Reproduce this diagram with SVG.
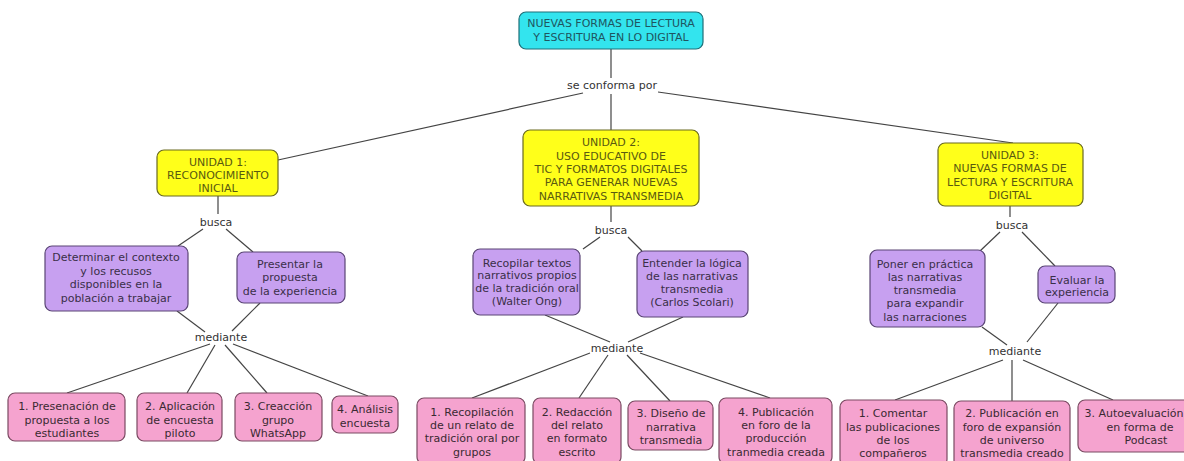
<svg xmlns="http://www.w3.org/2000/svg" width="1184" height="461" viewBox="0 0 1184 461">
<style>
text{font-family:"DejaVu Sans",Verdana,sans-serif;font-size:11px;fill:#3a3a3a;text-anchor:middle}
.lbl{font-size:11px;fill:#333}
.root rect{fill:#33E4EE;stroke:#1f6f78;stroke-width:1.2}
.root text{fill:#1f5560}
.unit rect{fill:#FFFF1A;stroke:#6a6a20;stroke-width:1.2}
.unit text{fill:#5a5a10}
.pur rect{fill:#C7A0F0;stroke:#5a4575;stroke-width:1.2}
.pur text{fill:#3a2f48}
.pink rect{fill:#F5A3CF;stroke:#7a4a62;stroke-width:1.2}
.pink text{fill:#3a2a32}
#connectors line{stroke:#444;stroke-width:1.2}
</style>
<rect width="1184" height="461" fill="#fff"/>
<g id="connectors">
<line x1="611" y1="49" x2="611" y2="78"/>
<line x1="611" y1="94" x2="611" y2="130"/>
<line x1="583" y1="93" x2="278" y2="160"/>
<line x1="658" y1="92" x2="1013" y2="143"/>
<line x1="218" y1="196" x2="218" y2="214"/>
<line x1="611" y1="206" x2="611" y2="222"/>
<line x1="1010" y1="206" x2="1010" y2="217"/>
<line x1="203" y1="229" x2="178" y2="246"/>
<line x1="226" y1="229" x2="253" y2="252"/>
<line x1="177" y1="311" x2="205" y2="332"/>
<line x1="260" y1="303" x2="232" y2="331"/>
<line x1="210" y1="344" x2="67" y2="393"/>
<line x1="215" y1="345" x2="187" y2="393"/>
<line x1="225" y1="345" x2="267" y2="393"/>
<line x1="233" y1="344" x2="368" y2="396"/>
<line x1="600" y1="237" x2="583" y2="249"/>
<line x1="628" y1="237" x2="642" y2="251"/>
<line x1="545" y1="315" x2="610" y2="342"/>
<line x1="683" y1="317" x2="628" y2="342"/>
<line x1="590" y1="353" x2="472" y2="398"/>
<line x1="608" y1="355" x2="579" y2="398"/>
<line x1="627" y1="355" x2="670" y2="401"/>
<line x1="640" y1="353" x2="770" y2="398"/>
<line x1="1000" y1="232" x2="980" y2="251"/>
<line x1="1022" y1="232" x2="1055" y2="266"/>
<line x1="982" y1="327" x2="1007" y2="345"/>
<line x1="1058" y1="303" x2="1027" y2="342"/>
<line x1="1003" y1="360" x2="895" y2="400"/>
<line x1="1012" y1="360" x2="1012" y2="401"/>
<line x1="1023" y1="360" x2="1113" y2="400"/>
</g>
<g id="labels">
<text class="lbl" x="612" y="89">se conforma por</text>
<text class="lbl" x="216" y="226">busca</text>
<text class="lbl" x="611" y="234">busca</text>
<text class="lbl" x="1012" y="229">busca</text>
<text class="lbl" x="221" y="341">mediante</text>
<text class="lbl" x="617" y="352">mediante</text>
<text class="lbl" x="1015" y="355">mediante</text>
</g>
<g id="root" class="root">
<rect x="519" y="12" width="184" height="37" rx="7"/>
<text x="611" y="27">NUEVAS FORMAS DE LECTURA</text>
<text x="611" y="41">Y ESCRITURA EN LO DIGITAL</text>
</g>
<g id="unidad1" class="unit">
<rect x="157" y="150" width="121" height="46" rx="7"/>
<text x="218" y="166">UNIDAD 1:</text>
<text x="218" y="179">RECONOCIMIENTO</text>
<text x="218" y="192">INICIAL</text>
</g>
<g id="unidad2" class="unit">
<rect x="523" y="130" width="176" height="76" rx="7"/>
<text x="611" y="146">UNIDAD 2:</text>
<text x="611" y="160">USO EDUCATIVO DE</text>
<text x="611" y="173">TIC Y FORMATOS DIGITALES</text>
<text x="611" y="186">PARA GENERAR NUEVAS</text>
<text x="611" y="200">NARRATIVAS TRANSMEDIA</text>
</g>
<g id="unidad3" class="unit">
<rect x="938" y="143" width="145" height="63" rx="7"/>
<text x="1010" y="159">UNIDAD 3:</text>
<text x="1010" y="172">NUEVAS FORMAS DE</text>
<text x="1010" y="186">LECTURA Y ESCRITURA</text>
<text x="1010" y="199">DIGITAL</text>
</g>
<g id="p1a" class="pur">
<rect x="45" y="246" width="143" height="65" rx="7"/>
<text x="116" y="261">Determinar el contexto</text>
<text x="116" y="275">y los recusos</text>
<text x="116" y="288">disponibles en la</text>
<text x="116" y="302">población a trabajar</text>
</g>
<g id="p1b" class="pur">
<rect x="237" y="252" width="108" height="51" rx="7"/>
<text x="290" y="268">Presentar la</text>
<text x="290" y="281">propuesta</text>
<text x="290" y="295">de la experiencia</text>
</g>
<g id="p2a" class="pur">
<rect x="473" y="249" width="107" height="66" rx="7"/>
<text x="527" y="267">Recopilar textos</text>
<text x="527" y="279">narrativos propios</text>
<text x="527" y="292">de la tradición oral</text>
<text x="527" y="305">(Walter Ong)</text>
</g>
<g id="p2b" class="pur">
<rect x="637" y="251" width="111" height="66" rx="7"/>
<text x="692" y="267">Entender la lógica</text>
<text x="692" y="280">de las narrativas</text>
<text x="692" y="293">transmedia</text>
<text x="692" y="306">(Carlos Scolari)</text>
</g>
<g id="p3a" class="pur">
<rect x="870" y="250" width="115" height="77" rx="7"/>
<text x="925" y="268">Poner en práctica</text>
<text x="925" y="281">las narrativas</text>
<text x="925" y="294">transmedia</text>
<text x="925" y="307">para expandir</text>
<text x="925" y="321">las narraciones</text>
</g>
<g id="p3b" class="pur">
<rect x="1038" y="266" width="77" height="37" rx="7"/>
<text x="1077" y="284">Evaluar la</text>
<text x="1077" y="296">experiencia</text>
</g>
<g id="k1a" class="pink">
<rect x="8" y="393" width="117" height="48" rx="7"/>
<text x="67" y="410">1. Presenación de</text>
<text x="67" y="424">propuesta a los</text>
<text x="67" y="437">estudiantes</text>
</g>
<g id="k1b" class="pink">
<rect x="137" y="393" width="85" height="48" rx="7"/>
<text x="180" y="410">2. Aplicación</text>
<text x="180" y="424">de encuesta</text>
<text x="180" y="437">piloto</text>
</g>
<g id="k1c" class="pink">
<rect x="235" y="393" width="87" height="48" rx="7"/>
<text x="278" y="410">3. Creacción</text>
<text x="278" y="424">grupo</text>
<text x="278" y="437">WhatsApp</text>
</g>
<g id="k1d" class="pink">
<rect x="332" y="396" width="66" height="37" rx="7"/>
<text x="365" y="413">4. Análisis</text>
<text x="365" y="427">encuesta</text>
</g>
<g id="k2a" class="pink">
<rect x="417" y="398" width="108" height="66" rx="7"/>
<text x="472" y="416">1. Recopilación</text>
<text x="472" y="429">de un relato de</text>
<text x="472" y="442">tradición oral por</text>
<text x="472" y="456">grupos</text>
</g>
<g id="k2b" class="pink">
<rect x="533" y="398" width="88" height="66" rx="7"/>
<text x="577" y="416">2. Redacción</text>
<text x="577" y="429">del relato</text>
<text x="577" y="442">en formato</text>
<text x="577" y="456">escrito</text>
</g>
<g id="k2c" class="pink">
<rect x="628" y="401" width="85" height="49" rx="7"/>
<text x="671" y="417">3. Diseño de</text>
<text x="671" y="431">narrativa</text>
<text x="671" y="444">transmedia</text>
</g>
<g id="k2d" class="pink">
<rect x="719" y="398" width="113" height="66" rx="7"/>
<text x="776" y="416">4. Publicación</text>
<text x="776" y="429">en foro de la</text>
<text x="776" y="442">producción</text>
<text x="776" y="456">tranmedia creada</text>
</g>
<g id="k3a" class="pink">
<rect x="840" y="400" width="107" height="66" rx="7"/>
<text x="893" y="417">1. Comentar</text>
<text x="893" y="431">las publicaciones</text>
<text x="893" y="444">de los</text>
<text x="893" y="457">compañeros</text>
</g>
<g id="k3b" class="pink">
<rect x="954" y="401" width="116" height="66" rx="7"/>
<text x="1012" y="417">2. Publicación en</text>
<text x="1012" y="431">foro de expansión</text>
<text x="1012" y="444">de universo</text>
<text x="1012" y="457">transmedia creado</text>
</g>
<g id="k3c" class="pink">
<rect x="1078" y="400" width="120" height="52" rx="7"/>
<text x="1134" y="417">3. Autoevaluación</text>
<text x="1140" y="431">en forma de</text>
<text x="1146" y="444">Podcast</text>
</g>
</svg>
